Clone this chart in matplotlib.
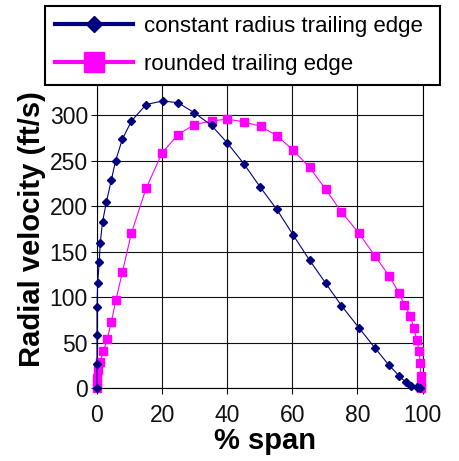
import matplotlib
matplotlib.use('Agg')
import matplotlib.pyplot as plt
from matplotlib.lines import Line2D

plt.rcParams['font.family'] = ['Liberation Sans', 'DejaVu Sans']

# constant radius trailing edge
const_x = [0, 0, 0, 0, 0.2, 0.7, 1.0, 1.7, 2.9, 4.4, 5.7, 7.8, 10.6, 15.1, 20.2, 24.9,
           29.9, 35.2, 40, 45.1, 50.2, 55.2, 60.2, 65.3, 70.2, 75.1, 80.4, 85.3, 89.6,
           92.8, 94.8, 96.6, 98.2, 99.2]
const_y = [0, 27, 59, 90, 116, 139, 160, 183, 205, 229, 250, 274, 294, 312, 316, 314,
           303, 289, 270, 247, 221, 197, 169, 141, 116, 91, 67, 45, 26,
           14, 7, 3, 1.5, 1]

# rounded trailing edge
round_x = [0, 0, 0.1, 0.4, 0.9, 2.0, 3.1, 4.4, 5.8, 7.8, 10.6, 15.1, 20, 24.9, 29.9,
           35.2, 40, 45.1, 50.3, 55.2, 60.2, 65.3, 70.2, 75.1, 80.4, 85.3, 89.7, 92.8,
           94.4, 96.2, 97.4, 98.2, 99.0, 99.3, 99.4, 99.5, 99.5]
round_y = [0, 5, 12, 20, 29, 41, 54, 73, 97, 128, 171, 220, 259, 279, 290,
           294, 296, 293, 288, 278, 262, 243, 219, 194, 171, 146, 124, 105,
           92, 80, 66, 53, 41, 28, 14, 4, 0]

labels = ['constant radius trailing edge', 'rounded trailing edge']
navy = '#000080'
pink = '#FF00FF'

fig = plt.figure(figsize=(4.59, 4.61), dpi=100)
ax = fig.add_axes([0.2113, 0.1573, 0.7092, 0.6909])

ax.plot(const_x, const_y, color=navy, lw=0.8, marker='D', ms=3.6,
        mec=navy, mfc=navy, clip_on=False, zorder=4)
ax.plot(round_x, round_y, color=pink, lw=0.8, marker='s', ms=5.5,
        mec=pink, mfc=pink, clip_on=False, zorder=3)

ax.set_xlim(0, 100)
ax.set_ylim(0, 350)
ax.set_xticks(range(0, 101, 20))
ax.set_yticks(range(0, 301, 50))
ax.grid(True, color='#111111', lw=0.8)
ax.set_axisbelow(True)
for s in ax.spines.values():
    s.set_color('black')
    s.set_linewidth(0.8)
ax.tick_params(direction='out', length=4.5, width=0.8, labelsize=16.5, colors='#111111')
ax.tick_params(axis='y', pad=2)
ax.tick_params(axis='x', pad=7)

ax.set_xlabel('% span', fontsize=21, fontweight='bold', labelpad=0)
ax.set_ylabel('Radial velocity (ft/s)', fontsize=21, fontweight='bold', labelpad=3)
ax.xaxis.set_label_coords(0.517, -0.12)

handles = [
    Line2D([], [], color=navy, lw=3, marker='D', ms=8, mfc=navy, mec=navy),
    Line2D([], [], color=pink, lw=3, marker='s', ms=15, mfc=pink, mec=pink),
]
leg = fig.legend(handles, labels, loc='upper left', mode='expand',
                 bbox_to_anchor=(0.098, 0.0, 0.861, 0.987), fontsize=16,
                 handlelength=3.5, handletextpad=0.5, borderpad=0.45,
                 labelspacing=0.75, fancybox=False, framealpha=1,
                 borderaxespad=0)
leg.get_frame().set_edgecolor('black')
leg.get_frame().set_linewidth(1.5)

fig.savefig('out.png', dpi=100)
